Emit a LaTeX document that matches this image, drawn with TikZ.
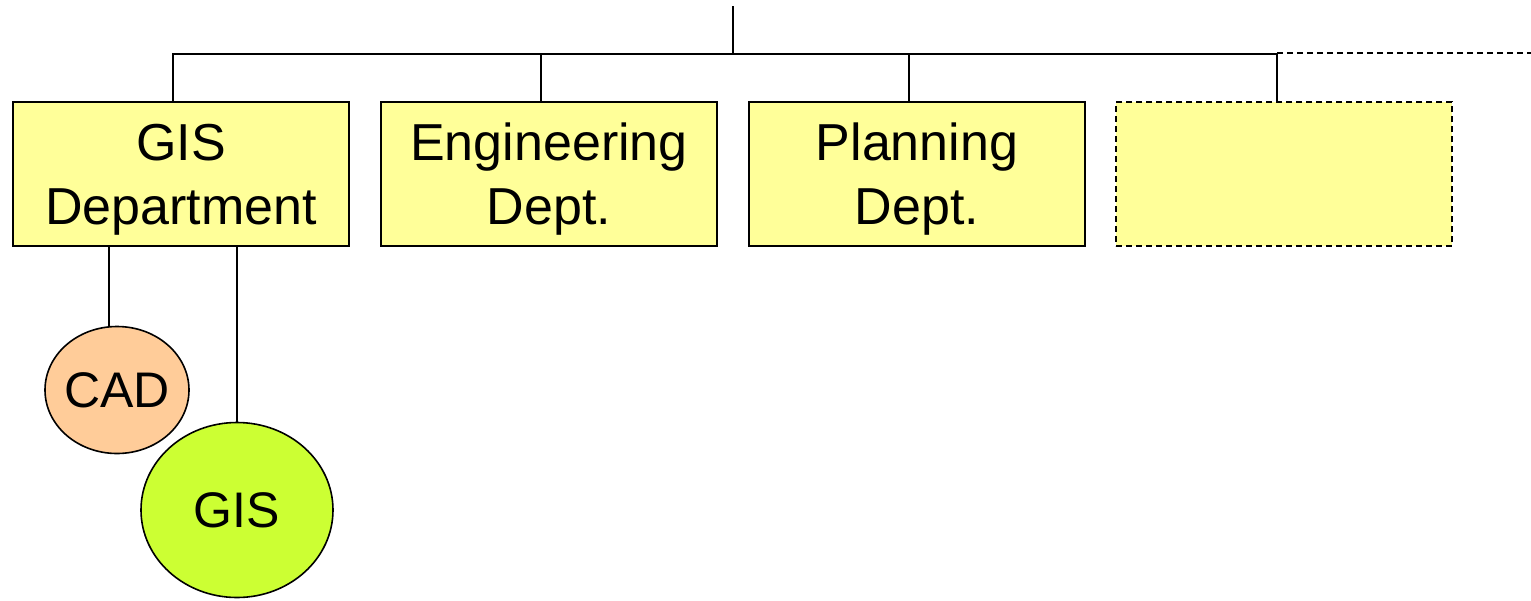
\documentclass[tikz,border=0pt]{standalone}
\usepackage{fontspec}
\setmainfont{Liberation Sans}
\usetikzlibrary{shapes.geometric}
\definecolor{deptfill}{HTML}{FFFF99}
\definecolor{cadfill}{HTML}{FFCC99}
\definecolor{gisfill}{HTML}{CCFF33}
\tikzset{
  wire/.style={line width=1.8pt},
  dept/.style={draw, line width=1.8pt, fill=deptfill, rectangle,
    minimum width=336pt, minimum height=144pt, inner sep=0pt,
    align=center, text depth=-6pt,
    font=\fontsize{52}{64}\selectfont},
  futuredept/.style={dept, dash pattern=on 6pt off 4pt},
  tool/.style={draw, line width=1.6pt, ellipse, inner xsep=-8pt, inner ysep=0pt,
    font=\fontsize{50}{60}\selectfont},
}
\begin{document}
\begin{tikzpicture}[x=1pt, y=-1pt]
  \useasboundingbox (0,0) rectangle (1531,600);

  % departments
  \node[dept] (gisdep) at (181,174) {GIS\\Department};
  \node[dept] (eng) at (549,174) {Engineering\\Dept.};
  \node[dept] (plan) at (917,174) {Planning\\Dept.};
  \node[futuredept] (spare) at (1284,174) {};

  % tools under the GIS department
  \node[tool, fill=cadfill, minimum width=144pt, minimum height=127pt] (cad) at (117,390) {CAD};
  \node[tool, fill=gisfill, minimum width=192pt, minimum height=175pt] (gis) at (237,510) {GIS};

  % bus connecting the departments
  \coordinate (top) at (733,6);
  \coordinate (bus) at (733,54);
  \coordinate (busend) at (1531,53);
  \draw[wire] (top) -- (bus);
  \draw[wire] ([xshift=-8pt]gisdep.north) |- (bus) -| ([xshift=-7pt]spare.north);
  \draw[wire] ([xshift=-8pt]eng.north) -- ([xshift=-8pt]eng.north |- bus);
  \draw[wire] ([xshift=-8pt]plan.north) -- ([xshift=-8pt]plan.north |- bus);
  \draw[wire, dash pattern=on 6pt off 4pt] ([xshift=-7pt]spare.north |- busend) -- (busend);

  % links down to the tools
  \draw[wire, line width=1.6pt] (cad.north -| 109,0) -- (gisdep.south -| 109,0);
  \draw[wire, line width=1.6pt] (gis.north) -- (gisdep.south -| gis.north);
\end{tikzpicture}
\end{document}
